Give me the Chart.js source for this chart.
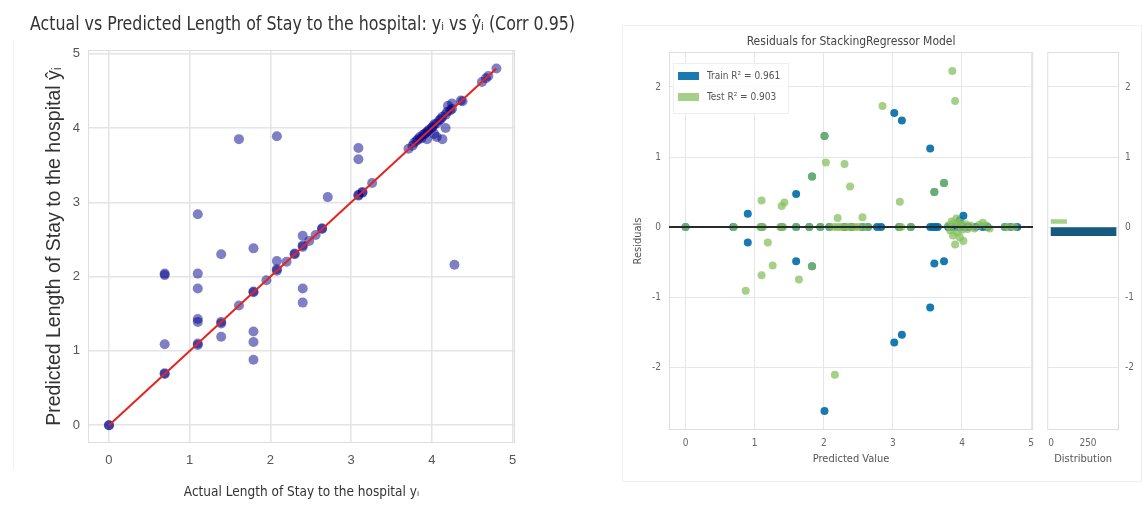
<!DOCTYPE html>
<html>
<head>
<meta charset="utf-8">
<script src="https://cdn.jsdelivr.net/npm/chart.js@4.4.0/dist/chart.umd.min.js"></script>
<style>
body{margin:0;background:#fff;width:1142px;height:511px;overflow:hidden;position:relative;font-family:'Liberation Sans',Arial,sans-serif}
canvas{position:absolute;top:0}
#actual{left:0}
#resid{left:600px}
#dist{left:1041px}
#frame{position:absolute;left:622px;top:25px;width:518px;height:455px;border:1px solid #efefef}
#lline{position:absolute;left:13px;top:40px;width:1px;height:430px;background:#f2f2f2}
#legend{position:absolute;left:673px;top:63px;padding:4px 8px 3px 4px;background:rgba(255,255,255,0.85);border:1px solid #eee;font-family:'DejaVu Sans Condensed','Liberation Sans',sans-serif;font-size:10px;color:#555}
#legend .row{height:21px;line-height:15px;white-space:nowrap}
#legend .box{display:inline-block;width:21px;height:8px;margin-right:8px;vertical-align:middle}
</style>
</head>
<body>
<div id="frame"></div>
<div id="lline"></div>
<canvas id="actual" width="604" height="511"></canvas>
<canvas id="resid" width="441" height="511"></canvas>
<canvas id="dist" width="101" height="511"></canvas>
<div id="legend"></div>
<script>
// left chart: actual vs predicted length of stay
var actualLos = [0,0,0.69,0.69,1.10,1.10,1.39,1.39,1.61,1.79,1.79,1.95,2.08,2.08,2.20,2.30,2.30,2.40,2.40,2.48,2.56,2.64,2.64,
  3.09,3.09,3.14,3.14,3.26,3.71,3.76,3.78,3.81,3.83,3.85,3.87,3.89,3.91,3.93,3.95,3.97,4.00,4.01,4.03,4.06,4.09,4.11,4.13,4.17,4.19,4.23,4.25,4.36,4.38,4.62,4.67,4.70,4.80,
  0.69,0.69,0.69,1.10,1.10,1.10,1.10,1.10,1.39,1.39,1.61,1.79,1.79,1.79,1.79,2.08,2.08,2.40,2.40,2.40,2.71,3.09,3.09,4.28,4.13,4.17,4.03,4.06,3.94,4.20,4.25];
var predictedLos = [0,0,0.69,0.70,1.10,1.08,1.39,1.37,1.61,1.79,1.80,1.95,2.08,2.10,2.20,2.30,2.31,2.40,2.42,2.48,2.56,2.64,2.65,
  3.09,3.10,3.14,3.13,3.26,3.72,3.76,3.80,3.83,3.85,3.88,3.86,3.91,3.92,3.94,3.96,3.98,4.00,4.02,4.05,4.06,4.10,4.12,4.15,4.18,4.22,4.24,4.26,4.37,4.36,4.62,4.67,4.70,4.80,
  2.02,2.04,1.09,2.84,2.04,1.84,1.43,1.39,2.30,1.19,3.85,2.38,1.26,1.12,0.88,3.89,2.21,2.55,1.84,1.65,3.07,3.73,3.58,2.16,3.85,4.00,3.92,3.88,3.85,4.30,4.33];
var xTicksLeft = [0,1,2,3,4,5];

// right chart: residuals of the stacking regressor
var trainPred = [0.90,0.90,1.60,1.60,1.83,1.83,2.01,2.01,3.02,3.13,3.02,3.13,3.54,3.54,3.60,3.60,3.74,3.74,4.02,3.97,
  0,0.69,1.10,1.39,1.60,1.79,1.95,2.08,2.30,2.40,2.56,2.64,2.77,2.83,3.09,3.26,3.54,3.58,3.62,3.65,3.80,3.85,3.90,3.95,4.00,4.05,4.10,4.20,4.30,4.37,4.62,4.70,4.80];
var trainResid = [0.19,-0.22,0.47,-0.49,0.72,-0.56,1.30,-2.63,1.63,1.52,-1.65,-1.54,1.12,-1.15,0.50,-0.52,0.63,-0.49,0.16,0.10,
  0,0,0,0,0,0,0,0,0,0,0,0,0,0,0,0,0,0,0,0,0,0,0,0,0,0,0,0,0,0,0,0,0];
var testPred = [0.87,1.10,1.10,1.19,1.26,1.39,1.43,1.64,1.83,1.83,2.01,2.03,2.16,2.20,2.30,2.38,2.56,2.85,3.10,3.60,3.74,3.86,3.90,
  0,0.70,1.08,1.12,1.37,1.41,1.60,1.79,1.95,2.08,2.15,2.20,2.25,2.30,2.35,2.40,2.45,2.50,2.56,2.64,3.09,3.12,3.26,
  3.80,3.83,3.85,3.87,3.88,3.90,3.92,3.93,3.95,3.97,3.98,4.00,4.02,4.05,4.08,4.12,4.18,4.25,4.30,4.35,4.40,4.62,4.68,4.76];
var testResid = [-0.91,0.38,-0.69,-0.22,-0.55,0.30,0.35,-0.75,0.72,-0.56,1.30,0.92,-2.11,0.13,0.90,0.58,0.14,1.73,0.36,0.50,0.63,2.23,1.80,
  0,0,0,0,0,0,0,0,0,0,0,0,0,0,0,0,0,0,0,0,0,0,0,
  0.02,-0.05,0.08,-0.12,0.05,-0.25,0.12,-0.08,0.03,-0.15,0.06,-0.04,-0.20,0.04,-0.03,0.02,-0.02,0.03,0.06,0.02,-0.02,0,0,0];
var seriesLabels = ['Train R\u00b2 = 0.961', 'Test R\u00b2 = 0.903'];
var residTicks = [-2,-1,0,1,2];

// distribution panel (histogram of residuals, horizontal)
var histBinsTrain = [-0.01];
var histCountTrain = [440];
var histBinsTest = [0.05];
var histCountTest = [105];
var distTicks = [0,250];

var narrow = "'DejaVu Sans Condensed','Liberation Sans',sans-serif";
var trainColor = 'rgba(0,108,168,0.9)';
var testColor = 'rgba(135,192,95,0.75)';

function pts(xs, ys){
  var out = [];
  for(var i=0;i<xs.length;i++){ out.push({x:xs[i], y:ys[i]}); }
  return out;
}
function keepTicks(list){
  return function(scale){ scale.ticks = list.map(function(v){ return {value:v}; }); };
}

var framePlugin = {
  id:'frame',
  beforeDatasetsDraw: function(chart){
    var a = chart.chartArea, c = chart.ctx;
    c.save();
    c.strokeStyle = '#dedede';
    c.lineWidth = 1;
    c.strokeRect(a.left+0.5, a.top+0.5, a.right-a.left-1, a.bottom-a.top-1);
    c.restore();
  }
};

var maxLos = Math.max.apply(null, actualLos);
var identity = [{x:0,y:0},{x:maxLos,y:maxLos}];

// padding 30/29 makes the title box 545px wide, so the long title is squeezed like in the original
new Chart(document.getElementById('actual'), {
  type:'scatter',
  data:{datasets:[
    {type:'line', data:identity, borderColor:'#e3241f', borderWidth:2, pointRadius:0, fill:false},
    {data:pts(actualLos, predictedLos), backgroundColor:'rgba(0,0,139,0.5)', borderWidth:0, pointRadius:5}
  ]},
  options:{
    responsive:false, animation:false,
    layout:{padding:{left:30,right:29,top:0,bottom:0}},
    plugins:{
      legend:{display:false}, tooltip:{enabled:false},
      title:{display:true, text:'Actual vs Predicted Length of Stay to the hospital: y\u1d62 vs \u0177\u1d62 (Corr 0.95)',
        font:{family:narrow, size:20, weight:'normal'}, color:'#333', padding:{top:13,bottom:13}}
    },
    scales:{
      x:{type:'linear', min:-0.26, max:5.03,
        afterBuildTicks:keepTicks(xTicksLeft),
        afterFit:function(s){ s.height = 68; },
        grid:{color:'#e4e4e4', lineWidth:1.5, drawTicks:false}, border:{display:false},
        ticks:{padding:10, color:'#555', font:{size:13}},
        title:{display:true, text:'Actual Length of Stay to the hospital y\u1d62', color:'#333',
          font:{family:narrow, size:13.5}, padding:{top:0,bottom:10}}},
      y:{type:'linear', min:-0.24, max:5.05,
        afterBuildTicks:keepTicks(xTicksLeft),
        afterFit:function(s){ s.width = 58; },
        grid:{color:'#e4e4e4', lineWidth:1.5, drawTicks:false}, border:{display:false},
        ticks:{padding:8, color:'#555', font:{size:13}},
        title:{display:true, text:'Predicted Length of Stay to the hospital \u0177\u1d62', color:'#333',
          font:{size:19.5}, padding:{top:13,bottom:0}}},
      // empty right axis keeps the plot narrow while the title stays centred
      yPad:{type:'linear', position:'right', afterFit:function(s){ s.width = 60; },
        grid:{display:false}, border:{display:false}, ticks:{display:false}}
    }
  },
  plugins:[framePlugin]
});

var xMinR = -0.24, xMaxR = 5.03;
new Chart(document.getElementById('resid'), {
  type:'scatter',
  data:{datasets:[
    {type:'line', data:[{x:xMinR,y:0},{x:xMaxR,y:0}], borderColor:'#2a2a2a', borderWidth:2, pointRadius:0, fill:false},
    {label:seriesLabels[1], data:pts(testPred, testResid), backgroundColor:testColor, borderWidth:0, pointRadius:4},
    {label:seriesLabels[0], data:pts(trainPred, trainResid), backgroundColor:trainColor, borderWidth:0, pointRadius:4}
  ]},
  options:{
    responsive:false, animation:false,
    layout:{padding:{left:0,right:3,top:0,bottom:0}},
    plugins:{legend:{display:false}, tooltip:{enabled:false}},
    scales:{
      x:{type:'linear', position:'bottom', min:xMinR, max:xMaxR,
        afterBuildTicks:keepTicks(xTicksLeft),
        afterFit:function(s){ s.height = 81; },
        grid:{color:'#e6e6e6', drawTicks:false}, border:{display:false},
        ticks:{padding:7, color:'#666', font:{family:narrow, size:10}},
        title:{display:true, text:'Predicted Value', color:'#555', font:{family:narrow, size:11}, padding:{top:0,bottom:45}}},
      x2:{type:'linear', position:'top', afterFit:function(s){ s.height = 52; },
        grid:{display:false}, border:{display:false}, ticks:{display:false},
        title:{display:true, text:'Residuals for StackingRegressor Model', color:'#444',
          font:{family:narrow, size:12}, padding:{top:35,bottom:0}}},
      y:{type:'linear', min:-2.9, max:2.5,
        afterBuildTicks:keepTicks(residTicks),
        afterFit:function(s){ s.width = 69; },
        grid:{color:'#e6e6e6', drawTicks:false}, border:{display:false},
        ticks:{padding:8, color:'#666', font:{family:narrow, size:10}},
        title:{display:true, text:'Residuals', color:'#555', font:{family:narrow, size:11}, padding:{top:32,bottom:0}}}
    }
  },
  plugins:[framePlugin]
});

new Chart(document.getElementById('dist'), {
  type:'bar',
  data:{datasets:[
    {data:pts(histCountTest, histBinsTest), backgroundColor:testColor, barThickness:4},
    {data:pts(histCountTrain, histBinsTrain), backgroundColor:'#17597f', barThickness:8}
  ]},
  options:{
    responsive:false, animation:false, indexAxis:'y',
    layout:{padding:{left:4,right:0,top:52,bottom:0}},
    plugins:{legend:{display:false}, tooltip:{enabled:false}},
    scales:{
      x:{type:'linear', min:-26, max:460,
        afterBuildTicks:keepTicks(distTicks),
        afterFit:function(s){ s.height = 81; },
        grid:{display:false, drawTicks:false}, border:{display:false},
        ticks:{padding:7, color:'#666', font:{family:narrow, size:10}},
        title:{display:true, text:'Distribution', color:'#555', font:{family:narrow, size:11}, padding:{top:0,bottom:45}}},
      y:{type:'linear', position:'right', min:-2.9, max:2.5, offset:false,
        afterBuildTicks:keepTicks(residTicks),
        afterFit:function(s){ s.width = 23; },
        grid:{color:'#e6e6e6', drawTicks:false, offset:false}, border:{display:false},
        ticks:{padding:6, color:'#666', font:{family:narrow, size:10}}}
    }
  },
  plugins:[framePlugin]
});

// legend inside the residual plot
var legendColors = [trainColor, testColor];
var lg = document.getElementById('legend');
seriesLabels.forEach(function(lbl, i){
  lg.innerHTML += '<div class="row"><span class="box" style="background:' + legendColors[i] + '"></span>' + lbl + '</div>';
});
</script>
</body>
</html>
